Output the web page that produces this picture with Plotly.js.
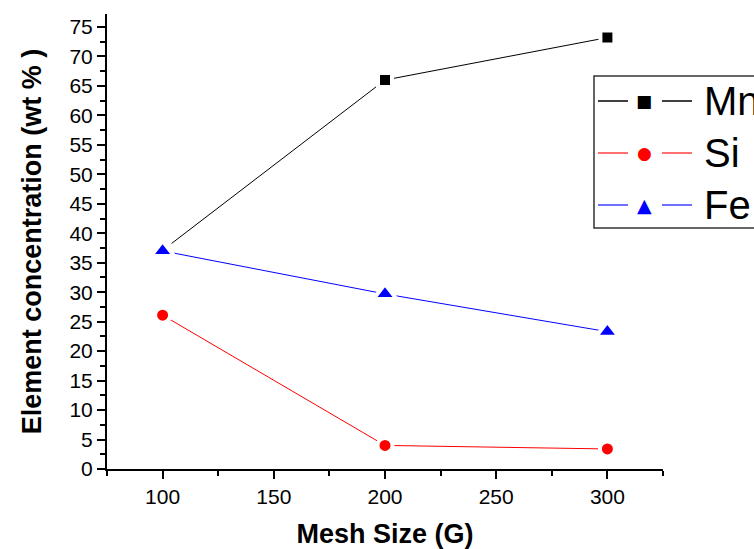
<!DOCTYPE html>
<html>
<head>
<meta charset="utf-8">
<script src="https://cdn.plot.ly/plotly-3.0.1.min.js"></script>
<style>html,body{margin:0;padding:0;background:#fff;}#chart{width:754px;height:549px;}</style>
</head>
<body>
<div id="chart"></div>
<script>
// ---- data ----
const meshSize = [100, 200, 300];
const mn = [37.1, 66.0, 73.2];
const si = [26.1, 4.0, 3.4];
const fe = [37.0, 29.7, 23.3];
const seriesNames = ["Mn", "Si", "Fe"];
const xTicks = [100, 150, 200, 250, 300];
const yTicks = [0, 5, 10, 15, 20, 25, 30, 35, 40, 45, 50, 55, 60, 65, 70, 75];

// ---- layout geometry ----
const W = 754, H = 549;
const L = 107, R = 663, T = 14, B = 469;
const px = x => (x - L) / (R - L);
const py = y => (B - y) / (B - T);
const FONT = "Liberation Sans, Arial, sans-serif";

const colors = ["#000000", "#ff0000", "#0000ff"];
const symbols = ["square", "circle", "triangle-up"];
const sizes = [14, 15, 20];
const ys = [mn, si, fe];

const traces = ys.map((v, i) => ({
  x: meshSize, y: v, name: seriesNames[i], type: "scatter", mode: "lines+markers",
  line: {color: colors[i], width: 1},
  marker: {symbol: symbols[i], size: sizes[i], color: colors[i], line: {color: "#ffffff", width: 4}},
  cliponaxis: false
}));

// ---- hand-built legend (Origin style, clipped by the page edge as in the reference) ----
const shapes = [{
  type: "rect", xref: "paper", yref: "paper",
  x0: px(594), x1: px(770), y0: py(228), y1: py(76),
  line: {color: "#333333", width: 1.5}, fillcolor: "rgba(0,0,0,0)"
}];
const annotations = [];
const legendColors = ["#000000", "#ff4040", "#4040ff"];
const rowY = [101, 153, 205];
const glyphs = ["■", "●", "▲"];
const glyphSize = [17, 17, 19];
seriesNames.forEach((n, i) => {
  const yy = py(rowY[i]);
  shapes.push({type: "line", xref: "paper", yref: "paper", x0: px(598), x1: px(628), y0: yy, y1: yy, line: {color: legendColors[i], width: 1.5}});
  shapes.push({type: "line", xref: "paper", yref: "paper", x0: px(662), x1: px(692), y0: yy, y1: yy, line: {color: legendColors[i], width: 1.5}});
  annotations.push({xref: "paper", yref: "paper", x: px(644), y: yy, text: glyphs[i], showarrow: false,
    xanchor: "center", yanchor: "middle", font: {family: "DejaVu Sans", size: glyphSize[i], color: colors[i]}});
  annotations.push({xref: "paper", yref: "paper", x: px(702), y: yy, text: n, showarrow: false,
    xanchor: "left", yanchor: "middle", font: {family: FONT, size: 40, color: "#000"}});
});

const axisCommon = {
  showline: true, linecolor: "#000", linewidth: 2, mirror: false,
  ticks: "outside", ticklen: 8, tickwidth: 2, tickcolor: "#000",
  showgrid: false, zeroline: false, automargin: false,
  tickfont: {family: FONT, size: 21, color: "#000"}
};

const layout = {
  width: W, height: H,
  margin: {l: L, r: W - R, t: T, b: H - B, autoexpand: false},
  paper_bgcolor: "#fff", plot_bgcolor: "#fff",
  showlegend: false,
  xaxis: Object.assign({}, axisCommon, {
    range: [75, 325], tickvals: xTicks,
    minor: {ticks: "outside", ticklen: 5, tickwidth: 2, tickcolor: "#000", dtick: 25, tick0: 0},
    title: {text: "Mesh Size (G)", standoff: 19, font: {family: FONT, size: 27, color: "#000", weight: "bold"}}
  }),
  yaxis: Object.assign({}, axisCommon, {
    range: [0, 77.2], tickvals: yTicks,
    minor: {ticks: "outside", ticklen: 5, tickwidth: 2, tickcolor: "#000", dtick: 2.5, tick0: 0},
    title: {text: "Element concentration (wt % )", standoff: 20, font: {family: FONT, size: 27, color: "#000", weight: "bold"}}
  }),
  shapes: shapes,
  annotations: annotations
};

Plotly.newPlot("chart", traces, layout, {displayModeBar: false, staticPlot: true});
</script>
</body>
</html>
